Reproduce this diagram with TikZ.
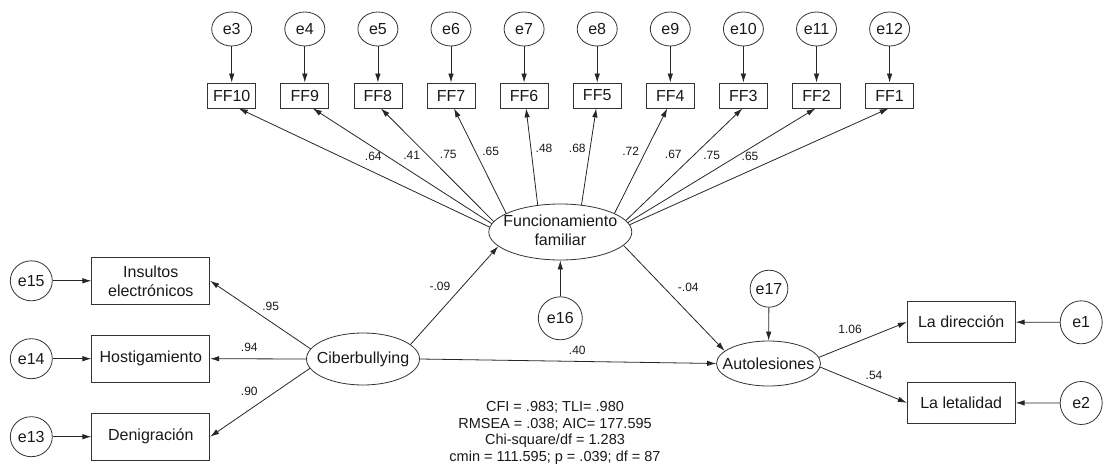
\documentclass[tikz,border=0pt]{standalone}
\usepackage{fontspec}
\setmainfont{Liberation Sans}
\usetikzlibrary{arrows.meta,shapes.geometric}
\newcommand\ctrbox[1]{\makebox[10pt]{#1}}
\begin{document}
\begin{tikzpicture}[x=1pt,y=-1pt,
  every node/.style={text=black!90},
  lat/.style={draw=black!80, ellipse, inner sep=0pt, line width=0.8pt, font=\fontsize{16}{19.5}\selectfont},
  err/.style={draw=black!80, ellipse, inner sep=0pt, line width=0.8pt, font=\fontsize{16}{19}\selectfont},
  obs/.style={draw=black!80, rectangle, inner sep=0pt, line width=0.8pt, align=center, font=\fontsize{16}{19}\selectfont},
  arr/.style={draw=black!85, line width=0.8pt, -{Latex[length=9pt,width=5.5pt]}},
  lbl/.style={font=\fontsize{12}{14}\selectfont, inner sep=0pt}]
\useasboundingbox (0,0) rectangle (1115,468);

% top indicators
\foreach \i/\e/\f in {0/3/10,1/4/9,2/5/8,3/6/7,4/7/6,5/8/5,6/9/4,7/10/3,8/11/2,9/12/1}{
  \node[err, minimum width=40pt, minimum height=34pt] (e\e) at (231.7+73.1*\i,29) {e\e};
  \node[obs, minimum width=48pt, minimum height=25pt] (FF\f) at (231.7+73.1*\i,95.5) {FF\f};
  \draw[arr] (e\e) -- (FF\f);
}

% latent variables
\node[lat, minimum width=143pt, minimum height=56pt] (fun) at (560.3,232)
  {\ctrbox{\begin{tabular}{@{}c@{}}Funcionamiento\\familiar\end{tabular}}};
\node[lat, minimum width=113pt, minimum height=52pt] (cib) at (363,359) {\ctrbox{Ciberbullying}};
\node[lat, minimum width=104pt, minimum height=45pt] (aut) at (768.5,363.5) {\ctrbox{Autolesiones}};

% left indicators
\node[obs, minimum width=118pt, minimum height=47pt] (ins) at (150.8,280.8) {Insultos\\electrónicos};
\node[obs, minimum width=118pt, minimum height=47pt] (hos) at (150.8,358.7) {Hostigamiento};
\node[obs, minimum width=118pt, minimum height=47pt] (den) at (150.8,436.7) {Denigración};
\node[err, minimum width=42pt, minimum height=40pt] (e15) at (31.3,280.8) {e15};
\node[err, minimum width=42pt, minimum height=40pt] (e14) at (31.3,358.7) {e14};
\node[err, minimum width=42pt, minimum height=40pt] (e13) at (31.3,436.7) {e13};

% right indicators
\node[obs, minimum width=108pt, minimum height=41pt] (dir) at (961.2,322) {La dirección};
\node[obs, minimum width=108pt, minimum height=41pt] (let) at (961.2,402.8) {La letalidad};
\node[err, minimum width=42pt, minimum height=43pt] (e1) at (1081.2,322.3) {e1};
\node[err, minimum width=42pt, minimum height=43pt] (e2) at (1081.2,403) {e2};

% disturbances
\node[err, minimum width=44pt, minimum height=43pt] (e16) at (560.3,318.3) {e16};
\node[err, minimum width=37pt, minimum height=37pt] (e17) at (769,288.7) {e17};

% arrows from Funcionamiento familiar to FF items
\foreach \f/\a/\s in {10/176/7,9/173/8,8/171/3,7/161/3,6/130/2,5/52/-1,4/19/-3,3/10/-1,2/8/-1,1/6/-1}{
  \draw[arr] (fun.\a) -- ([xshift=\s pt]FF\f.south);
}

% structural arrows
\draw[arr] (cib.169) -- (ins.east);
\draw[arr] (cib.west) -- (hos.east);
\draw[arr] (cib.190) -- (den.east);
\draw[arr] (e15) -- (ins);
\draw[arr] (e14) -- (hos);
\draw[arr] (e13) -- (den);
\draw[arr] (cib.17) -- (fun.193);
\draw[arr] (cib.east) -- (aut.west);
\draw[arr] (fun.348) -- (aut.164);
\draw[arr] (e16) -- (fun);
\draw[arr] (e17) -- (aut);
\draw[arr] (aut.7) -- (dir.west);
\draw[arr] (aut.356) -- (let.west);
\draw[arr] (e1) -- (dir);
\draw[arr] (e2) -- (let);

% loadings
\node[lbl] at (373.3,156.7) {.64};
\node[lbl] at (411.7,155.7) {.41};
\node[lbl] at (448.3,154) {.75};
\node[lbl] at (490.7,151.7) {.65};
\node[lbl] at (544,148.3) {.48};
\node[lbl] at (577.3,148.3) {.68};
\node[lbl] at (630.7,151.7) {.72};
\node[lbl] at (673.3,154) {.67};
\node[lbl] at (711.7,155.7) {.75};
\node[lbl] at (750,156.7) {.65};

\node[lbl] at (270.7,306) {.95};
\node[lbl] at (249.3,347.3) {.94};
\node[lbl] at (249.3,391) {.90};
\node[lbl] at (440,286) {-.09};
\node[lbl] at (688.3,287.3) {-.04};
\node[lbl] at (577.3,350.7) {.40};
\node[lbl] at (850,329) {1.06};
\node[lbl] at (874,375) {.54};

% fit indices
\node[align=center, inner sep=0pt, font=\fontsize{14.5}{16.8}\selectfont] (fit) at (555,433)
  {CFI = .983; TLI= .980\\RMSEA = .038; AIC= 177.595\\Chi-square/df = 1.283\\cmin = 111.595; p = .039; df = 87};
\end{tikzpicture}
\end{document}
